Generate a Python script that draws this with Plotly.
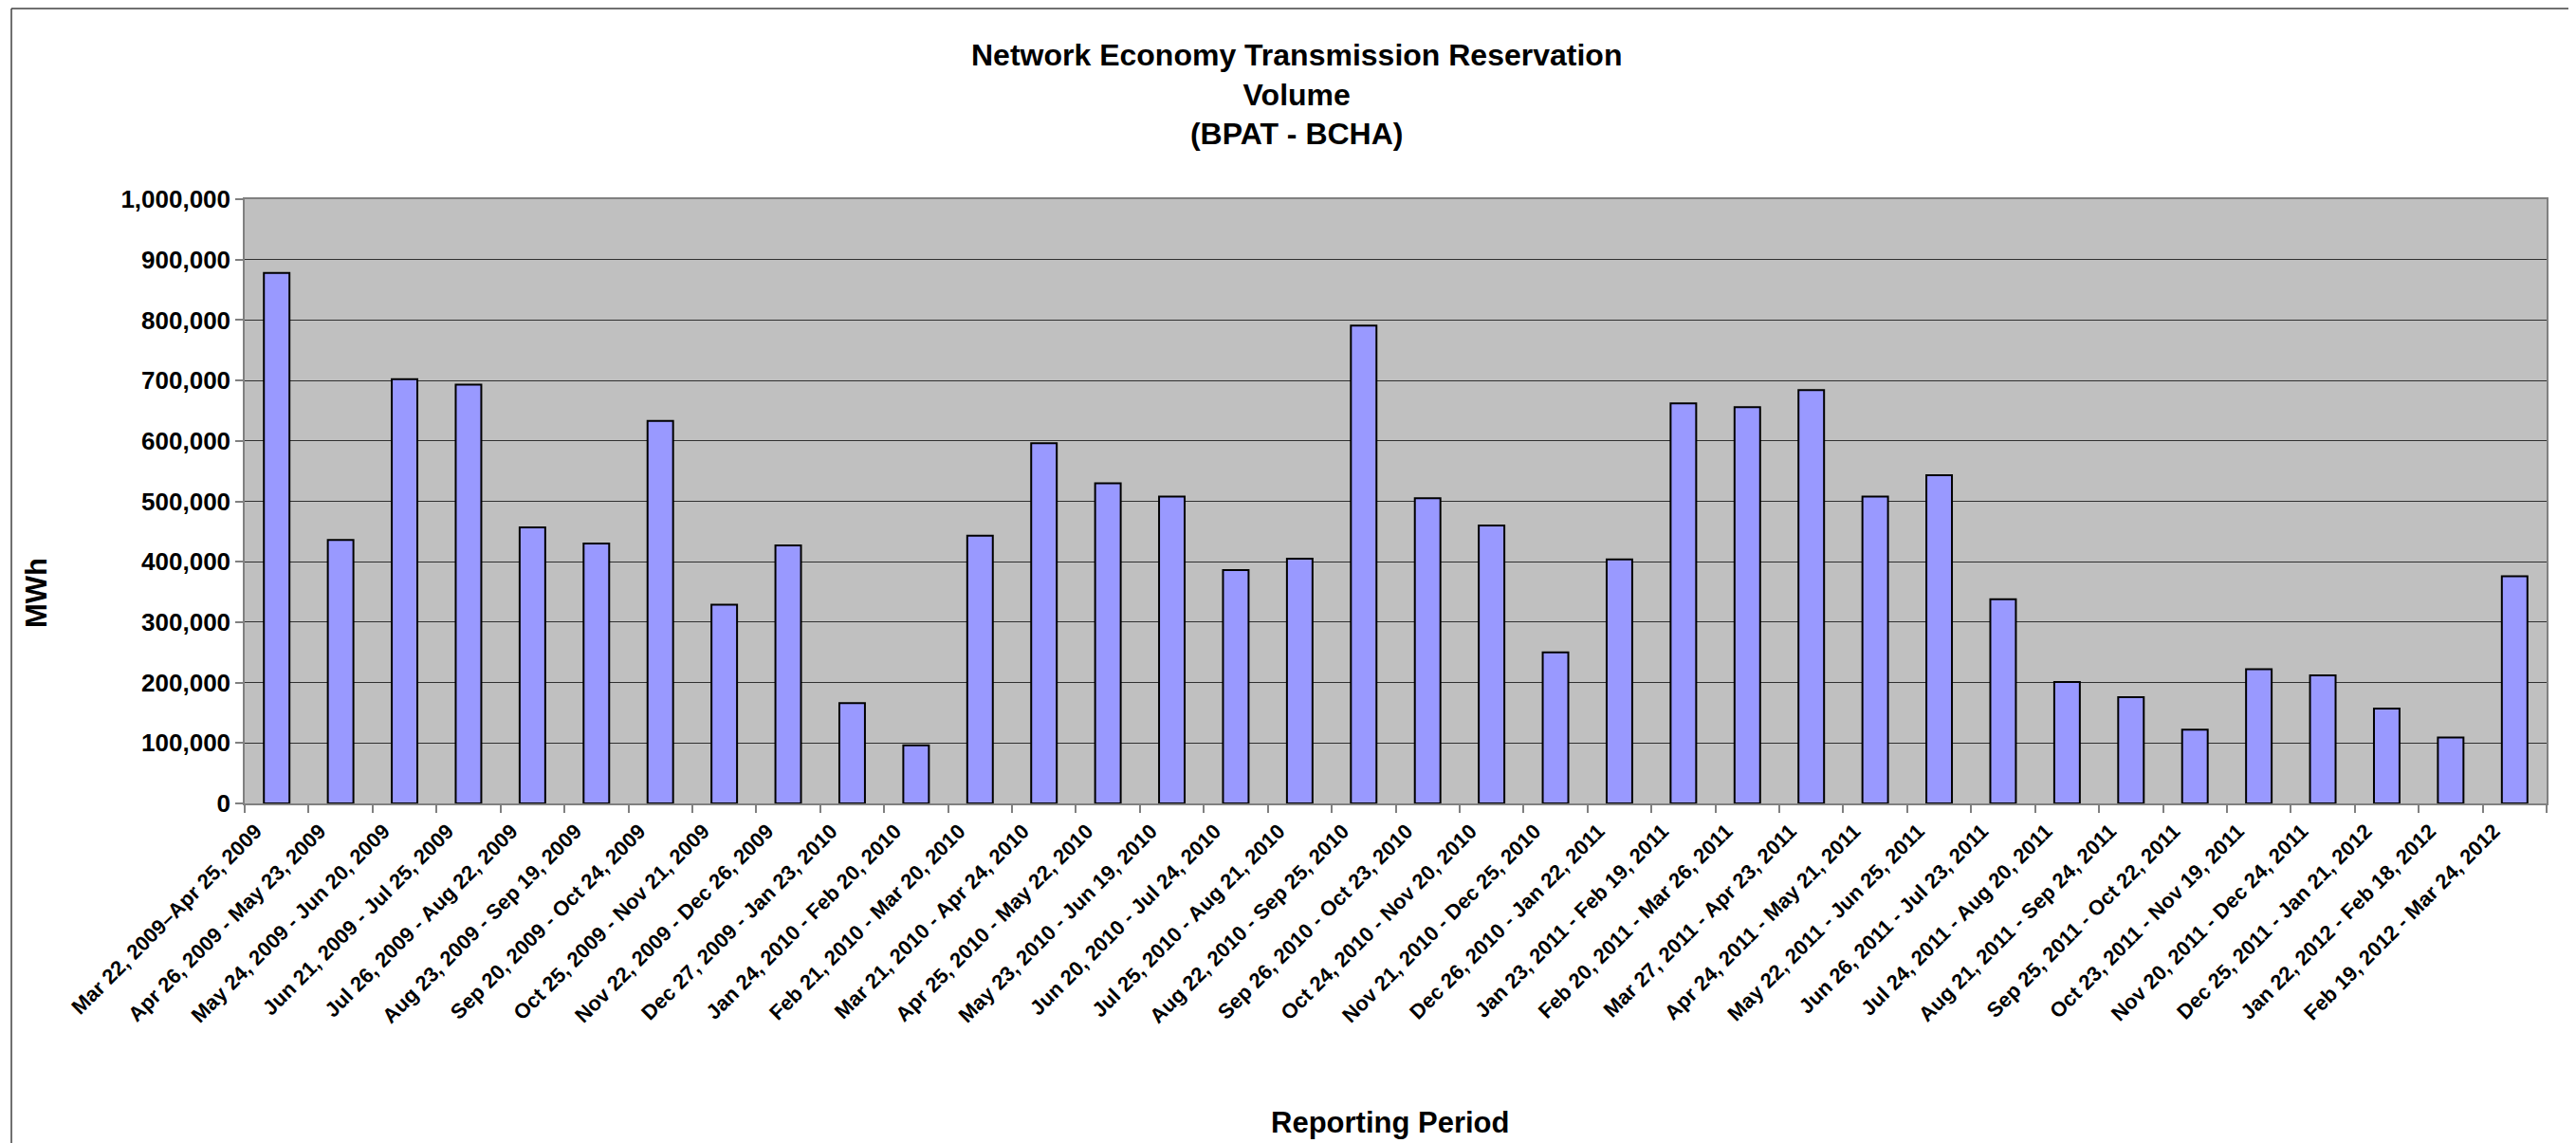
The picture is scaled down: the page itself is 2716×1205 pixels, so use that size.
import plotly.graph_objects as go

periods = [
    "Mar 22, 2009\u2013Apr 25, 2009", "Apr 26, 2009 - May 23, 2009", "May 24, 2009 - Jun 20, 2009",
    "Jun 21, 2009 - Jul 25, 2009", "Jul 26, 2009 - Aug 22, 2009", "Aug 23, 2009 - Sep 19, 2009",
    "Sep 20, 2009 - Oct 24, 2009", "Oct 25, 2009 - Nov 21, 2009", "Nov 22, 2009 - Dec 26, 2009",
    "Dec 27, 2009 - Jan 23, 2010", "Jan 24, 2010 - Feb 20, 2010", "Feb 21, 2010 - Mar 20, 2010",
    "Mar 21, 2010 - Apr 24, 2010", "Apr 25, 2010 - May 22, 2010", "May 23, 2010 - Jun 19, 2010",
    "Jun 20, 2010 - Jul 24, 2010", "Jul 25, 2010 - Aug 21, 2010", "Aug 22, 2010 - Sep 25, 2010",
    "Sep 26, 2010 - Oct 23, 2010", "Oct 24, 2010 - Nov 20, 2010", "Nov 21, 2010 - Dec 25, 2010",
    "Dec 26, 2010 - Jan 22, 2011", "Jan 23, 2011 - Feb 19, 2011", "Feb 20, 2011 - Mar 26, 2011",
    "Mar 27, 2011 - Apr 23, 2011", "Apr 24, 2011 - May 21, 2011", "May 22, 2011 - Jun 25, 2011",
    "Jun 26, 2011 - Jul 23, 2011", "Jul 24, 2011 - Aug 20, 2011", "Aug 21, 2011 - Sep 24, 2011",
    "Sep 25, 2011 - Oct 22, 2011", "Oct 23, 2011 - Nov 19, 2011", "Nov 20, 2011 - Dec 24, 2011",
    "Dec 25, 2011 - Jan 21, 2012", "Jan 22, 2012 - Feb 18, 2012", "Feb 19, 2012 - Mar 24, 2012",
]

volume_mwh = [
    878000, 436000, 702000, 693000, 457000, 430000, 633000, 329000, 427000,
    166000, 96000, 443000, 596000, 530000, 508000, 386000, 405000, 791000,
    505000, 460000, 250000, 404000, 662000, 656000, 684000, 508000, 543000,
    338000, 201000, 176000, 122000, 222000, 212000, 157000, 109000, 376000,
]

y_ticks = [0, 100000, 200000, 300000, 400000, 500000, 600000, 700000, 800000, 900000, 1000000]

# page is rendered with the default 8px body margin
OFF = 8
W, H = 2716 - OFF, 1205 - OFF
# plot area in page pixels: x 258..2685, y 210..847
L, T = 258 - OFF, 210 - OFF
R = W - (2685 - OFF)
B = H - (847 - OFF)
pw, ph = W - L - R, H - T - B

def px_x(p):
    return (p - OFF - L) / pw

def px_y(p):
    return (H - B - (p - OFF)) / ph

FONT = "Liberation Sans, Arial, sans-serif"

fig = go.Figure(go.Bar(
    x=periods, y=volume_mwh,
    marker=dict(color="#9999FF", line=dict(color="#000000", width=2)),
))

fig.update_layout(
    width=W, height=H,
    margin=dict(l=L, r=R, t=T, b=B, autoexpand=False),
    paper_bgcolor="white", plot_bgcolor="#C0C0C0",
    bargap=0.6, showlegend=False,
    font=dict(family=FONT, color="black"),
)

fig.update_xaxes(
    type="category", tickangle=-45, tickson="boundaries", automargin=False,
    ticks="outside", ticklen=8, tickcolor="#808080", tickwidth=1.5,
    ticklabelshift=-22, ticklabelstandoff=6,
    showline=True, linecolor="#808080", linewidth=1.5, mirror=True,
    showgrid=False,
    tickfont=dict(family=FONT, size=22, color="black", weight="bold"),
)
fig.update_yaxes(
    range=[0, 1000000], tickvals=y_ticks, tickformat=",d", automargin=False,
    ticks="outside", ticklen=8, tickcolor="#808080", tickwidth=1.5,
    showline=True, linecolor="#808080", linewidth=1.5, mirror=True,
    showgrid=True, gridcolor="#303030", gridwidth=1.3, zeroline=False,
    tickfont=dict(family=FONT, size=26, color="black", weight="bold"),
)

fig.add_annotation(
    text="Network Economy Transmission Reservation<br>Volume<br>(BPAT - BCHA)",
    xref="paper", yref="paper", x=px_x(1367), y=px_y(99),
    xanchor="center", yanchor="middle", showarrow=False,
    font=dict(family=FONT, size=32, color="black", weight="bold"),
)
fig.add_annotation(
    text="Reporting Period", xref="paper", yref="paper",
    x=px_x(1465), y=px_y(1183), xanchor="center", yanchor="middle", showarrow=False,
    font=dict(family=FONT, size=31, color="black", weight="bold"),
)
fig.add_annotation(
    text="MWh", xref="paper", yref="paper", textangle=-90,
    x=px_x(38), y=px_y(625), xanchor="center", yanchor="middle", showarrow=False,
    font=dict(family=FONT, size=31, color="black", weight="bold"),
)

# outer chart border (left and top edges visible)
fig.add_shape(type="line", xref="paper", yref="paper",
              x0=px_x(12), x1=px_x(2730), y0=px_y(OFF + 1), y1=px_y(OFF + 1),
              line=dict(color="#404040", width=1.5))
fig.add_shape(type="line", xref="paper", yref="paper",
              x0=px_x(12), x1=px_x(12), y0=px_y(OFF + 1), y1=px_y(1220),
              line=dict(color="#404040", width=1.5))

fig.write_html("out.html")
